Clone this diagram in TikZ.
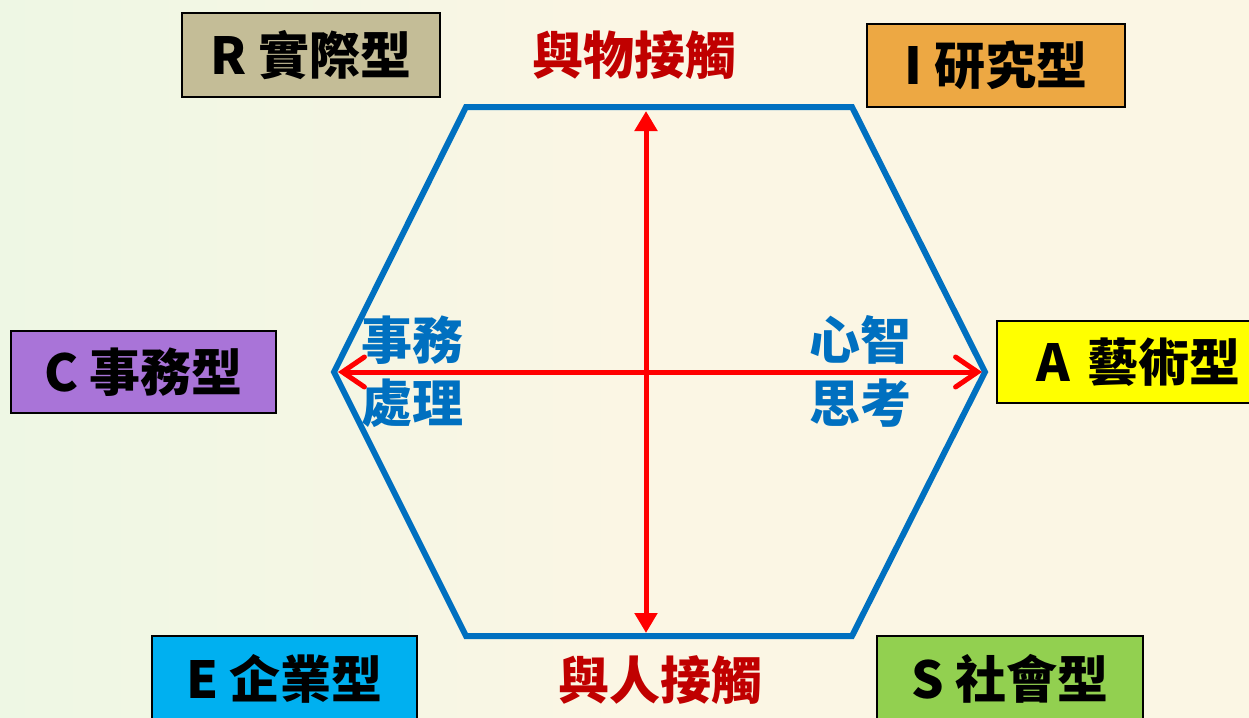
\documentclass[tikz,border=0pt]{standalone}
\usepackage{fontspec}
\setmainfont{Noto Sans CJK TC}
\usetikzlibrary{arrows.meta}
\definecolor{hexblue}{HTML}{0070C0}
\definecolor{arrred}{HTML}{FF0000}
\definecolor{darkred}{HTML}{C00000}
\definecolor{rbox}{HTML}{C4BD97}
\definecolor{ibox}{HTML}{EDA843}
\definecolor{cbox}{HTML}{A974D8}
\definecolor{abox}{HTML}{FFFF00}
\definecolor{ebox}{HTML}{00B0F0}
\definecolor{sbox}{HTML}{92D050}
\definecolor{bgcream}{HTML}{FBF6E4}
\definecolor{bggreen}{HTML}{EEF7E4}
\tikzset{
  typebox/.style={draw=black, line width=1.5pt, inner sep=0pt, font=\fontsize{51}{55}\selectfont\bfseries, text=black},
  redlabel/.style={text=darkred, font=\fontsize{51}{55}\selectfont\bfseries, inner sep=0pt},
  bluelabel/.style={text=hexblue, font=\fontsize{51}{55}\selectfont\bfseries, inner sep=0pt, align=center},
  hexline/.style={draw=hexblue, line width=6pt, line join=miter},
  redarrow/.style={draw=arrred, line width=5pt},
}
\begin{document}
\begin{tikzpicture}[x=1pt,y=-1pt]
\useasboundingbox (0,0) rectangle (1249,717);
\shade[left color=bggreen, right color=bgcream, middle color=bgcream] (0,0) rectangle (1249,717);
% hexagon
\coordinate (h1) at (466,107);
\coordinate (h2) at (852,107);
\coordinate (h3) at (985,372);
\coordinate (h4) at (852,636);
\coordinate (h5) at (466,636);
\coordinate (h6) at (334,372);
\draw[hexline] (h1) -- (h2) -- (h3) -- (h4) -- (h5) -- (h6) -- cycle;
% arrows
\coordinate (vtop) at (646,111);
\coordinate (vbot) at (646,633);
\coordinate (hl) at (338,372);
\coordinate (hr) at (982,372);
\draw[redarrow, {Triangle[width=22pt,length=20pt]}-{Triangle[width=22pt,length=20pt]}] (vtop) -- (vbot);
\draw[redarrow, line cap=round, {Straight Barb[length=22pt,width=30pt,line cap=round]}-{Straight Barb[length=22pt,width=30pt,line cap=round]}] (hl) -- (hr);
% labels
\node[redlabel] (top) at (634,55) {與物接觸};
\node[redlabel] (bot) at (660,680) {與人接觸};
\node[bluelabel] (l1) at (412,340) {事務};
\node[bluelabel] (l2) at (412,403) {處理};
\node[bluelabel] (r1) at (860,340) {心智};
\node[bluelabel] (r2) at (860,403) {思考};
% type boxes
\node[typebox, fill=rbox, minimum width=258pt, minimum height=84pt] (R) at (311,55) {R 實際型};
\node[typebox, fill=ibox, minimum width=258pt, minimum height=83pt] (I) at (996,65.5) {I 研究型};
\node[typebox, fill=cbox, minimum width=265pt, minimum height=82pt] (C) at (143.5,372) {C 事務型};
\node[typebox, fill=abox, minimum width=254pt, minimum height=82pt, text width=232pt, align=right] (A) at (1124,362) {A 藝術型};
\node[typebox, fill=ebox, minimum width=265pt, minimum height=86pt] (E) at (284.5,679) {E 企業型};
\node[typebox, fill=sbox, minimum width=266pt, minimum height=86pt] (S) at (1010,679) {S 社會型};
\end{tikzpicture}
\end{document}
